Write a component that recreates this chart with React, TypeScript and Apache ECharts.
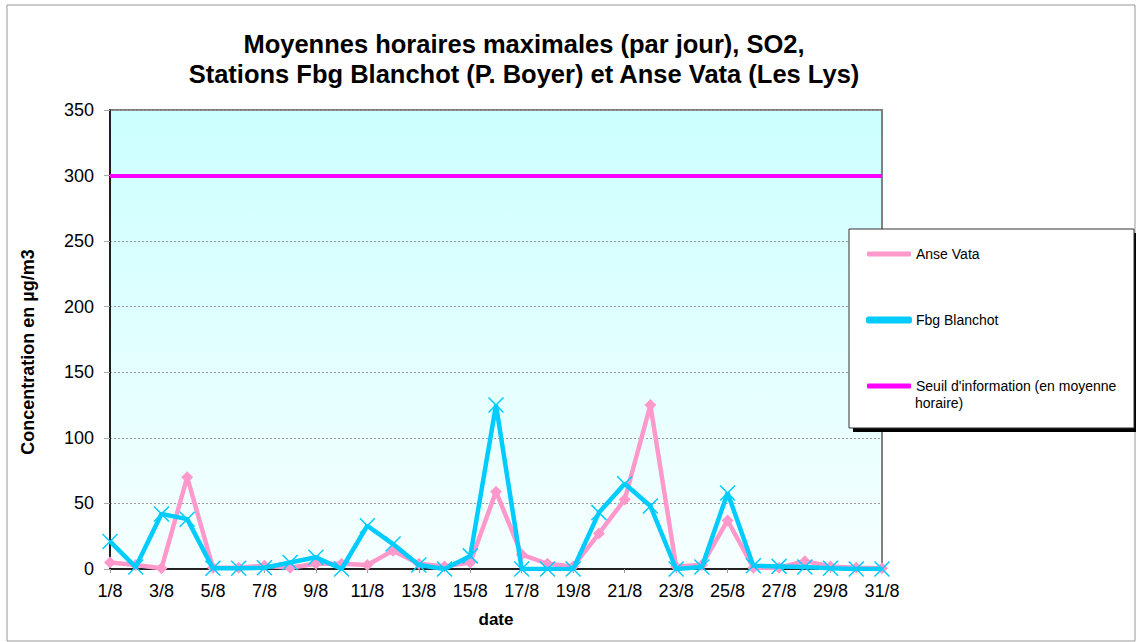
import React, { useEffect, useRef } from "react";
import * as echarts from "echarts";

const dates = [
  "1/8", "2/8", "3/8", "4/8", "5/8", "6/8", "7/8", "8/8", "9/8", "10/8",
  "11/8", "12/8", "13/8", "14/8", "15/8", "16/8", "17/8", "18/8", "19/8", "20/8",
  "21/8", "22/8", "23/8", "24/8", "25/8", "26/8", "27/8", "28/8", "29/8", "30/8", "31/8",
];

const anseVata = [
  5, 3, 0.5, 70, 1, 1, 2.5, 1, 4, 4,
  3, 14, 4, 2, 5, 59, 11, 4, 2, 27,
  53, 125, 2, 3, 37, 1, 1, 6, 2, 1, 0.5,
];

const fbgBlanchot = [
  21, 1.5, 42, 38, 0.5, 0.5, 1, 5, 9, 0,
  33, 19, 3, 0, 10, 125, 0, 0, 0, 43,
  65, 48, 0, 1.5, 58, 2.5, 2, 1.5, 0.5, 0, 0,
];

const threshold = 300;

const yTicks = { min: 0, max: 350, interval: 50 };

const seriesNames = [
  "Anse Vata",
  "Fbg Blanchot",
  "Seuil d'information (en moyenne horaire)",
];

const FONT = "Liberation Sans, Arial, sans-serif";

export default function App() {
  const ref = useRef<HTMLDivElement>(null);

  useEffect(() => {
    if (!ref.current) return;
    const chart = echarts.init(ref.current, null, { renderer: "svg" });
    const option: any = {
      animation: false,
      backgroundColor: "#ffffff",
      textStyle: { fontFamily: FONT },
      grid: {
        left: 110,
        top: 110,
        width: 772,
        height: 459,
        show: true,
        borderColor: "#808080",
        borderWidth: 2,
        backgroundColor: {
          type: "linear",
          x: 0,
          y: 0,
          x2: 0,
          y2: 1,
          colorStops: [
            { offset: 0, color: "#CCFFFF" },
            { offset: 1, color: "#F6FFFF" },
          ],
        },
      },
      legend: {
        orient: "vertical",
        left: 866,
        top: 247,
        padding: 0,
        itemWidth: 44,
        itemHeight: 5,
        itemGap: 52,
        z: 10,
        icon: "roundRect",
        data: seriesNames,
        formatter: (name: string) =>
          name === seriesNames[2] ? "Seuil d'information (en moyenne" : name,
        textStyle: { fontFamily: FONT, fontSize: 14, color: "#000", lineHeight: 14 },
      },
      xAxis: {
        type: "category",
        data: dates,
        boundaryGap: false,
        name: "date",
        nameLocation: "middle",
        nameGap: 42,
        nameTextStyle: { fontFamily: FONT, fontSize: 17, fontWeight: "bold", color: "#000" },
        axisLine: { lineStyle: { color: "#000", width: 1.5 } },
        axisTick: { show: true, interval: 1, length: 4, lineStyle: { color: "#999" } },
        axisLabel: {
          interval: 1,
          margin: 13,
          fontFamily: FONT,
          fontSize: 18,
          color: "#000",
        },
        splitLine: { show: false },
      },
      yAxis: {
        type: "value",
        min: yTicks.min,
        max: yTicks.max,
        interval: yTicks.interval,
        axisLine: { show: true, lineStyle: { color: "#000", width: 1.5 } },
        axisTick: { show: true, length: 6, lineStyle: { color: "#aaa" } },
        axisLabel: { margin: 16, fontFamily: FONT, fontSize: 18, color: "#000" },
        splitLine: { show: true, lineStyle: { color: "#999", type: [2, 2], width: 1 } },
      },
      series: [
        {
          name: seriesNames[0],
          type: "line",
          data: anseVata,
          color: "#FF99CC",
          lineStyle: { width: 4.5, color: "#FF99CC" },
          symbol: "diamond",
          symbolSize: 12,
          itemStyle: { color: "#FF99CC" },
          z: 3,
        },
        {
          name: seriesNames[1],
          type: "line",
          data: fbgBlanchot,
          color: "#00CCFF",
          lineStyle: { width: 4.5, color: "#00CCFF" },
          symbol: "path://M0,0L10,10M10,0L0,10",
          symbolSize: 15,
          itemStyle: { color: "#00CCFF", borderColor: "#00CCFF", borderWidth: 1.5 },
          z: 4,
        },
        {
          name: seriesNames[2],
          type: "line",
          data: [],
          color: "#FF00FF",
          symbol: "none",
          lineStyle: { width: 4, color: "#FF00FF" },
          z: 2,
          markLine: {
            silent: true,
            symbol: "none",
            label: { show: false },
            lineStyle: { color: "#FF00FF", width: 4, type: "solid" },
            data: [{ yAxis: threshold }],
          },
        },
      ],
      graphic: [
        {
          type: "rect",
          z: 0,
          silent: true,
          shape: { x: 7, y: 5, width: 1128, height: 636 },
          style: { fill: "none", stroke: "#999", lineWidth: 1 },
        },
        {
          type: "text",
          z: 10,
          silent: true,
          x: 524,
          y: 44,
          style: {
            text: "Moyennes horaires maximales (par jour), SO2,",
            fontFamily: FONT,
            fontSize: 25.5,
            fontWeight: "bold",
            fill: "#000",
            align: "center",
            verticalAlign: "middle",
          },
        },
        {
          type: "text",
          z: 10,
          silent: true,
          x: 524,
          y: 74,
          style: {
            text: "Stations Fbg Blanchot (P. Boyer) et Anse Vata (Les Lys)",
            fontFamily: FONT,
            fontSize: 25.5,
            fontWeight: "bold",
            fill: "#000",
            align: "center",
            verticalAlign: "middle",
          },
        },
        {
          type: "text",
          z: 10,
          silent: true,
          x: 28,
          y: 352,
          rotation: Math.PI / 2,
          style: {
            text: "Concentration en µg/m3",
            fontFamily: FONT,
            fontSize: 18,
            fontWeight: "bold",
            fill: "#000",
            align: "center",
            verticalAlign: "middle",
          },
        },
        {
          type: "rect",
          z: 5,
          silent: true,
          shape: { x: 853, y: 233, width: 285, height: 199 },
          style: { fill: "#000" },
        },
        {
          type: "rect",
          z: 6,
          silent: true,
          shape: { x: 849, y: 229, width: 285, height: 199 },
          style: { fill: "#fff", stroke: "#333", lineWidth: 1 },
        },
        {
          type: "text",
          z: 11,
          silent: true,
          left: 915,
          top: 396,
          style: { text: "horaire)", fontFamily: FONT, fontSize: 14, fill: "#000" },
        },
      ],
    };
    chart.setOption(option);
    return () => chart.dispose();
  }, []);

  return (
    <div
      ref={ref}
      style={{ position: "fixed", left: 0, top: 0, width: 1136, height: 642 }}
    />
  );
}
